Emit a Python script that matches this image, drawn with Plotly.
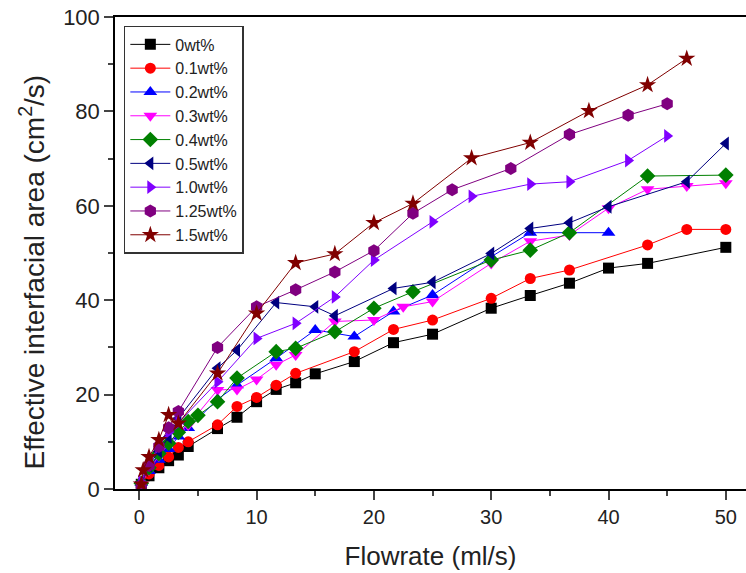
import plotly.graph_objects as go

labels = ["0wt%", "0.1wt%", "0.2wt%", "0.3wt%", "0.4wt%", "0.5wt%", "1.0wt%", "1.25wt%", "1.5wt%"]
colors = ["#000000", "#FF0000", "#0000FF", "#FF00FF", "#008000", "#000080", "#8000FF", "#800080", "#800000"]
symbols = ["square", "circle", "triangle-up", "triangle-down", "diamond", "triangle-left", "triangle-right", "hexagon", "star"]

x0 = [0.17, 0.83, 1.67, 2.5, 3.33, 4.17, 6.67, 8.33, 10, 11.67, 13.33, 15, 18.33, 21.67, 25, 30, 33.33, 36.67, 40, 43.33, 50]
y0 = [1.0, 2.8, 4.5, 6.0, 7.2, 9.0, 12.8, 15.2, 18.5, 21.1, 22.5, 24.4, 27.0, 31.0, 32.8, 38.3, 41.0, 43.6, 46.8, 47.8, 51.2]

x1 = [0.17, 0.83, 1.67, 2.5, 3.33, 4.17, 6.67, 8.33, 10, 11.67, 13.33, 18.33, 21.67, 25, 30, 33.33, 36.67, 43.33, 46.67, 50]
y1 = [1.2, 3.2, 5.0, 6.8, 8.8, 10.0, 13.6, 17.5, 19.4, 22.0, 24.5, 29.1, 33.8, 35.8, 40.4, 44.6, 46.4, 51.7, 55.0, 55.0]

x2 = [0.17, 0.83, 1.67, 2.5, 3.33, 4.17, 6.67, 8.33, 11.67, 15, 18.33, 21.67, 25, 30, 33.33, 40]
y2 = [1.3, 3.8, 6.2, 8.5, 11.1, 12.9, 19.0, 22.0, 27.7, 33.7, 32.3, 37.6, 41.1, 49.2, 54.3, 54.3]

x3 = [0.17, 0.83, 1.67, 2.5, 3.33, 4.17, 6.67, 8.33, 10, 11.67, 13.33, 16.67, 20, 22.5, 25, 30, 33.33, 36.67, 40, 43.33, 46.67, 50]
y3 = [1.0, 4.0, 7.0, 9.5, 12.0, 13.5, 21.0, 21.1, 23.2, 26.3, 28.4, 35.5, 35.8, 38.6, 39.7, 47.8, 52.5, 53.8, 59.5, 63.5, 64.2, 64.8]

x4 = [0.17, 0.83, 1.67, 2.5, 3.33, 4.17, 5, 6.67, 8.33, 11.67, 13.33, 16.67, 20, 23.33, 30, 33.33, 36.67, 43.33, 50]
y4 = [1.2, 4.5, 7.5, 9.7, 12.0, 14.3, 15.6, 18.5, 23.5, 29.1, 29.8, 33.3, 38.3, 41.8, 48.5, 50.6, 54.3, 66.3, 66.5]

x5 = [0.17, 0.83, 1.67, 2.5, 3.33, 6.67, 8.33, 11.67, 15, 16.67, 21.67, 25, 30, 33.33, 36.67, 40, 46.67, 50]
y5 = [1.5, 5.0, 8.0, 11.0, 15.0, 25.6, 29.4, 39.5, 38.6, 36.7, 42.5, 43.8, 49.9, 55.2, 56.4, 59.8, 65.1, 73.2]

x6 = [0.17, 0.83, 1.67, 2.5, 3.33, 6.67, 10, 13.33, 16.67, 20, 25, 28.33, 33.33, 36.67, 41.67, 45]
y6 = [1.5, 5.5, 9.0, 12.1, 14.0, 22.7, 31.9, 35.1, 40.7, 48.5, 56.6, 62.0, 64.6, 65.1, 69.6, 74.8]

x7 = [0.17, 0.83, 1.67, 2.5, 3.33, 6.67, 10, 13.33, 16.67, 20, 23.33, 26.67, 31.67, 36.67, 41.67, 45]
y7 = [0.8, 5.0, 9.0, 13.0, 16.4, 30.0, 38.6, 42.2, 46.0, 50.5, 58.4, 63.4, 67.9, 75.1, 79.2, 81.6]

x8 = [0.17, 0.33, 0.83, 1.67, 2.5, 3.33, 6.67, 10, 13.33, 16.67, 20, 23.33, 28.33, 33.33, 38.33, 43.33, 46.67]
y8 = [1.0, 4.0, 6.8, 10.4, 15.7, 13.9, 24.5, 37.2, 47.9, 49.8, 56.4, 60.5, 70.1, 73.4, 80.1, 85.6, 91.2]

xs = [x0, x1, x2, x3, x4, x5, x6, x7, x8]
ys = [y0, y1, y2, y3, y4, y5, y6, y7, y8]

x_ticks = [0, 10, 20, 30, 40, 50]
y_ticks = [0, 20, 40, 60, 80, 100]

x_title = "Flowrate (ml/s)"
y_title = "Effective interfacial area (cm<sup>2</sup>/s)"

fig = go.Figure()
for lab, col, sym, xv, yv in zip(labels, colors, symbols, xs, ys):
    size = 11
    if sym in ("star", "hexagon"):
        size = 13
    elif sym.startswith("triangle") or sym == "diamond":
        size = 12
    fig.add_trace(go.Scatter(
        x=xv, y=yv, mode="lines+markers", name=lab,
        line=dict(color=col, width=1),
        marker=dict(symbol=sym, color=col, size=size, line=dict(width=0)),
    ))

fig.update_layout(
    width=746, height=573,
    margin=dict(l=115, r=0, t=17, b=84),
    paper_bgcolor="white", plot_bgcolor="white",
    font=dict(family="Liberation Sans, Arial, sans-serif", color="black"),
    showlegend=True,
    legend=dict(
        x=0.014, y=0.981, xanchor="left", yanchor="top",
        bordercolor="#333333", borderwidth=1.5, bgcolor="white",
        font=dict(size=16, color="#222222"),
        itemwidth=40, tracegroupgap=0,
    ),
    xaxis=dict(
        range=[-2.07, 51.72], tickvals=x_ticks, ticks="outside", ticklen=9,
        tickwidth=1.5, showline=True, linecolor="black", linewidth=1.5,
        mirror=True, showgrid=False, zeroline=False, automargin=False,
        ticklabeloverflow="allow",
        tickfont=dict(size=20, color="#222222"),
        minor=dict(ticks="outside", ticklen=5, tickwidth=1.5, dtick=5, tick0=5, showgrid=False),
        title=dict(text=x_title, font=dict(size=26, color="#222222"), standoff=20),
    ),
    yaxis=dict(
        range=[0, 100], tickvals=y_ticks, ticks="outside", ticklen=9,
        tickwidth=1.5, showline=True, linecolor="black", linewidth=1.5,
        showgrid=False, zeroline=False, automargin=False,
        ticklabeloverflow="allow",
        tickfont=dict(size=22, color="#222222"),
        minor=dict(ticks="outside", ticklen=5, tickwidth=1.5, dtick=10, tick0=10, showgrid=False),
    ),
    annotations=[dict(
        text=y_title, textangle=-90, xref="paper", yref="paper",
        x=-0.1307, y=0.4597, xanchor="center", yanchor="middle",
        showarrow=False, font=dict(size=28, color="#222222"),
    )],
)

fig.write_html(
    "out.html",
    config={"displayModeBar": False},
    post_script="document.body.style.margin='0';",
)
